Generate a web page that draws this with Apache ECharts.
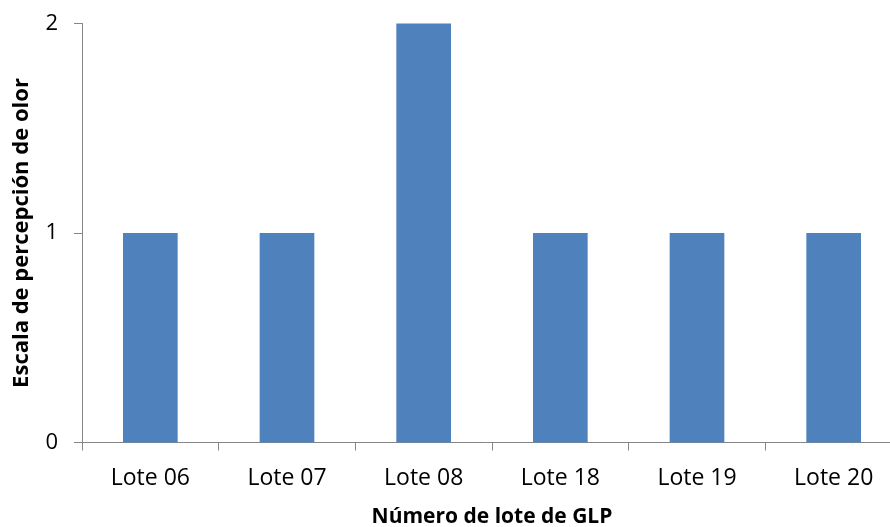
<!DOCTYPE html>
<html><head><meta charset="utf-8">
<script src="https://cdn.jsdelivr.net/npm/echarts@6/dist/echarts.min.js"></script>
<style>html,body{margin:0;padding:0;background:#fff}#c{width:890px;height:527px}</style>
</head><body><div id="c"></div>
<script>
const categories = ['Lote 06','Lote 07','Lote 08','Lote 18','Lote 19','Lote 20'];
const values = [1,1,2,1,1,1];
const yTicks = [0,1,2];
const xTitle = 'Número de lote de GLP';
const yTitle = 'Escala de percepción de olor';

const FONT = '"Open Sans", "Liberation Sans", sans-serif';
const chart = echarts.init(document.getElementById('c'), null, {renderer:'canvas'});
chart.setOption({
  animation:false,
  grid:{left:82, top:23.5, width:820, height:419, containLabel:false, outerBoundsMode:'none'},
  xAxis:{
    type:'category', data:categories,
    name:xTitle, nameLocation:'middle', nameGap:64,
    nameTextStyle:{fontFamily:FONT, fontSize:21, fontWeight:'bold', color:'#000'},
    axisLine:{lineStyle:{color:'#868686', width:1}},
    axisTick:{show:true, length:8, alignWithLabel:false, lineStyle:{color:'#868686'}},
    axisLabel:{fontFamily:FONT, fontSize:23, color:'#000', margin:24}
  },
  yAxis:{
    type:'value', min:yTicks[0], max:yTicks[yTicks.length-1], interval:1,
    name:yTitle, nameLocation:'middle', nameGap:49,
    nameTextStyle:{fontFamily:FONT, fontSize:22, fontWeight:'bold', color:'#000'},
    axisLine:{show:true, lineStyle:{color:'#868686', width:1}},
    axisTick:{show:true, length:8, lineStyle:{color:'#868686'}},
    splitLine:{show:false},
    axisLabel:{fontFamily:FONT, fontSize:22, color:'#000', margin:24}
  },
  series:[{
    type:'bar', data:values, barWidth:'40%',
    itemStyle:{color:'#4F81BD'}
  }]
});
</script></body></html>
